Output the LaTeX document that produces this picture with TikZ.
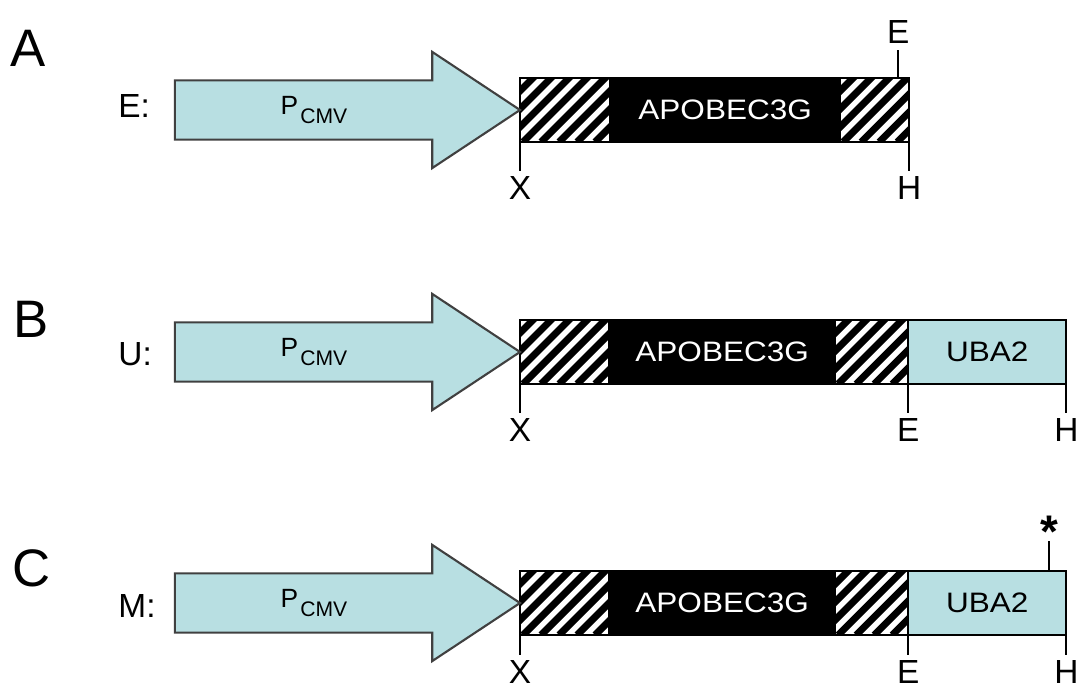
\documentclass[tikz,border=0pt]{standalone}
\usepackage{fontspec}
\setmainfont{Liberation Sans}
\newfontfamily\widesans[FakeStretch=1.12]{Liberation Sans}
\usetikzlibrary{positioning,shapes.arrows}
\definecolor{cmvblue}{RGB}{184,223,226}
\newcommand{\genefont}{\widesans\fontsize{8}{10}\selectfont}
\newcommand{\sitefont}{\fontsize{9.5}{11}\selectfont}

\tikzset{
  promoter/.style={single arrow, draw=black!75, line width=0.6pt, fill=cmvblue,
    minimum height=3.45cm, inner xsep=0pt, inner ysep=0.285cm, text height=0pt, text depth=0pt,
    single arrow head extend=0.285cm, single arrow tip angle=67, outer sep=0pt, anchor=tip},
  hatchbox/.style={draw, line width=0.6pt, fill=white, minimum height=0.64cm,
    inner sep=0pt, outer sep=0pt, anchor=west,
    path picture={\foreach \k in {-5,...,8}
      \draw[line width=2pt] ([xshift=\k*0.18cm+0.03cm]path picture bounding box.south west) -- ++(0.9cm,0.9cm);}},
  genebox/.style={draw, line width=0.6pt, fill=black, text=white, minimum height=0.64cm,
    inner sep=0pt, outer sep=0pt, anchor=west, font=\genefont},
  ubabox/.style={draw, line width=0.6pt, fill=cmvblue, minimum height=0.64cm,
    inner sep=0pt, outer sep=0pt, anchor=west, font=\genefont},
  site/.style={inner sep=1.5pt, font=\sitefont},
  tick/.style={line width=0.6pt},
  rowletter/.style={font=\fontsize{15}{18}\selectfont},
  construct/.style={anchor=west, font=\sitefont},
  cmvlabel/.style={font=\fontsize{7.5}{9}\selectfont}
}
\newcommand{\pcmv}{P\kern0.6pt\raisebox{-2.8pt}{\fontsize{6}{7}\selectfont CMV}}

\begin{document}
\begin{tikzpicture}[x=0.01cm,y=-0.01cm]
\useasboundingbox (0,0) rectangle (1080,689);

% Construct E
\node[rowletter] (lA) at (28,48) {A};
\node[construct] (nE) at (106,106) {E:};
\node[hatchbox, minimum width=0.90cm] (a1) at (520,110) {};
\node[genebox, minimum width=2.30cm] (a2) at (a1.east) {APOBEC3G};
\node[hatchbox, minimum width=0.69cm] (a3) at (a2.east) {};
\node[promoter] (pA) at (a1.west) {};
\node[cmvlabel] (cA) at (314,110) {\pcmv};
% sites
\node[site, below=0.29cm of a1.south west] (xA) {X};
\draw[tick] (a1.south west) -- (xA);
\node[site, below=0.29cm of a3.south east] (hA) {H};
\draw[tick] (a3.south east) -- (hA);
\coordinate (eA) at ([xshift=-0.11cm]a3.north east);
\node[site, above=0.28cm of eA] (eAl) {E};
\draw[tick] (eA) -- (eAl);

% Construct U
\node[rowletter] (lB) at (31,319) {B};
\node[construct] (nU) at (106,354) {U:};
\node[hatchbox, minimum width=0.89cm] (b1) at (520,352) {};
\node[genebox, minimum width=2.26cm] (b2) at (b1.east) {APOBEC3G};
\node[hatchbox, minimum width=0.73cm] (b3) at (b2.east) {};
\node[ubabox, minimum width=1.58cm] (b4) at (b3.east) {UBA2};
\node[promoter] (pB) at (b1.west) {};
\node[cmvlabel] (cB) at (314,352) {\pcmv};
% sites
\node[site, below=0.29cm of b1.south west] (xB) {X};
\draw[tick] (b1.south west) -- (xB);
\node[site, below=0.29cm of b3.south east] (eB) {E};
\draw[tick] (b3.south east) -- (eB);
\node[site, below=0.29cm of b4.south east] (hB) {H};
\draw[tick] (b4.south east) -- (hB);

% Construct M
\node[rowletter] (lC) at (32,568) {C};
\node[construct] (nM) at (106,606) {M:};
\node[hatchbox, minimum width=0.89cm] (c1) at (520,603) {};
\node[genebox, minimum width=2.26cm] (c2) at (c1.east) {APOBEC3G};
\node[hatchbox, minimum width=0.73cm] (c3) at (c2.east) {};
\node[ubabox, minimum width=1.58cm] (c4) at (c3.east) {UBA2};
\node[promoter] (pC) at (c1.west) {};
\node[cmvlabel] (cC) at (314,603) {\pcmv};
% sites
\node[site, below=0.20cm of c1.south west] (xC) {X};
\draw[tick] (c1.south west) -- (xC);
\node[site, below=0.20cm of c3.south east] (eC) {E};
\draw[tick] (c3.south east) -- (eC);
\node[site, below=0.20cm of c4.south east] (hC) {H};
\draw[tick] (c4.south east) -- (hC);
% mutation
\coordinate (sC) at ([xshift=-0.17cm]c4.north east);
\coordinate (tC) at ([yshift=0.30cm]sC);
\draw[tick] (sC) -- (tC);
\node[anchor=base, inner sep=0pt, font=\fontsize{13}{15}\selectfont\bfseries] (stC) at ([yshift=0.23cm]sC) {*};
\end{tikzpicture}
\end{document}
